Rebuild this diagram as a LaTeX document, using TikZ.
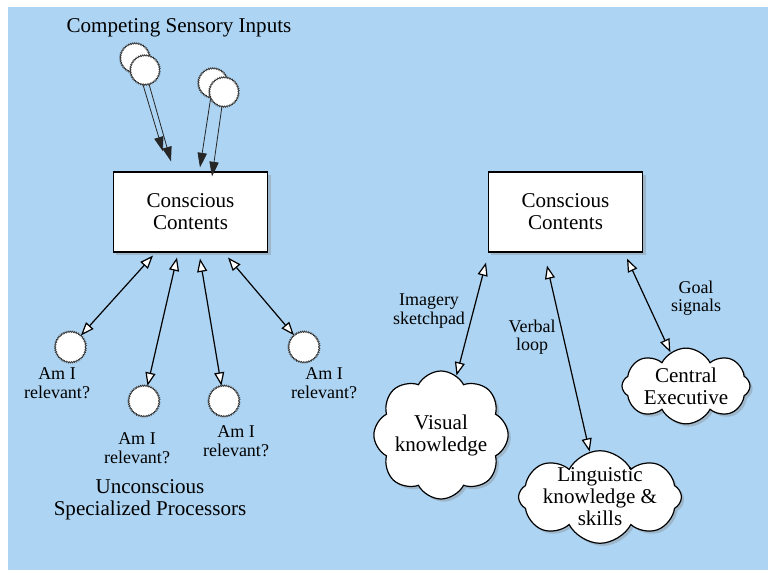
\documentclass[tikz,border=0pt]{standalone}
\usepackage{fontspec}
\setmainfont{Liberation Serif}
\usetikzlibrary{arrows.meta,calc,shadows,shapes.symbols,decorations.pathmorphing}

\begin{document}
\begin{tikzpicture}[x=0.75pt,y=-0.75pt,
		big/.style={font=\fontsize{15.8}{16.5}\selectfont, align=center},
		small/.style={font=\fontsize{13.5}{13.8}\selectfont, align=center},
		contents/.style={big, draw, fill=white, line width=0.8pt, minimum width=116pt, minimum height=60pt,
			drop shadow={shadow xshift=2pt, shadow yshift=-2pt, opacity=0.35}},
		blob/.style={big, cloud, cloud puffs=8, cloud puff arc=125, cloud ignores aspect, inner sep=0pt, draw, fill=white, line width=0.9pt,
			drop shadow={shadow xshift=2pt, shadow yshift=-2pt, opacity=0.35}},
		proc/.style={circle, draw=black!50, fill=white, line width=0.3pt, inner sep=0pt,
			postaction={draw=black!80, line width=0.4pt, decorate, decoration={zigzag, segment length=1.4pt, amplitude=0.6pt}}},
		feed/.style={-{Triangle[length=11pt,width=7pt]}, line width=0.6pt, black!85},
		link/.style={{Triangle[length=10pt,width=7.5pt,fill=white]}-{Triangle[length=10pt,width=7.5pt,fill=white]}, line width=0.9pt},
	]
	\definecolor{skyblue}{HTML}{ADD4F2}
	\useasboundingbox (0,0) rectangle (768,570);
	\fill[skyblue] (8,7) rectangle (768,570);

	% global workspace
	\node[big] (title) at (179,28) {Competing Sensory Inputs};
	\node[contents] (lbox) at (190.5,212) {Conscious\\Contents};
	\coordinate (t1a) at ($(lbox.north)+(-27.5,-20)$);
	\coordinate (t1b) at ($(lbox.north)+(-19.5,-10)$);
	\coordinate (t2a) at ($(lbox.north)+(9.5,-4)$);
	\coordinate (t2b) at ($(lbox.north)+(21.5,5)$);
	\node[proc, minimum size=22pt] (s1a) at (135,58) {};
	\draw[feed] (s1a) -- (t1a);
	\node[proc, minimum size=22pt] (s1b) at (145,70) {};
	\draw[feed] (s1b) -- (t1b);
	\node[proc, minimum size=22pt] (s2a) at (213,83) {};
	\draw[feed] (s2a) -- (t2a);
	\node[proc, minimum size=22pt] (s2b) at (224,92) {};
	\draw[feed] (s2b) -- (t2b);

	\node[proc, minimum size=23pt] (p1) at (70.5,347) {};
	\node[proc, minimum size=23pt] (p2) at (144,401) {};
	\node[proc, minimum size=23pt] (p3) at (224,401) {};
	\node[proc, minimum size=23pt] (p4) at (304,347) {};
	\node[small] (q1) at (57,383) {Am I\\relevant?};
	\node[small] (q2) at (137,448) {Am I\\relevant?};
	\node[small] (q3) at (236,441) {Am I\\relevant?};
	\node[small] (q4) at (324,383) {Am I\\relevant?};
	\node[big] (unc) at (150,500) {Unconscious\\Specialized Processors};
	\draw[link] (p1) -- ($(lbox.south)+(-37.5,3)$);
	\draw[link] (p2) -- ($(lbox.south)+(-13.5,5)$);
	\draw[link] (p3) -- ($(lbox.south)+(9.5,6)$);
	\draw[link] (p4) -- ($(lbox.south)+(37.5,5)$);

	% working memory
	\node[contents] (rbox) at (565.5,212) {Conscious\\Contents};
	\node[blob, minimum width=100pt, minimum height=96pt] (visual) at (441,435) {Visual\\knowledge};
	\node[blob, minimum width=108pt, minimum height=60pt, inner ysep=-6pt] (lingu) at (600,497) {Linguistic\\knowledge \&\\skills};
	\node[blob, minimum width=96pt, minimum height=56pt] (exec) at (686,386) {Central\\Executive};
	\draw[link] (visual) -- ($(rbox.south)+(-79.5,10)$);
	\draw[link] (lingu) -- ($(rbox.south)+(-18.5,13)$);
	\draw[link] (exec) -- ($(rbox.south)+(61.5,6)$);
	\node[small] (img) at (429,311) {Imagery\\sketchpad};
	\node[small] (verb) at (532,337) {Verbal\\loop};
	\node[small] (goal) at (696,298) {Goal\\signals};
\end{tikzpicture}
\end{document}
